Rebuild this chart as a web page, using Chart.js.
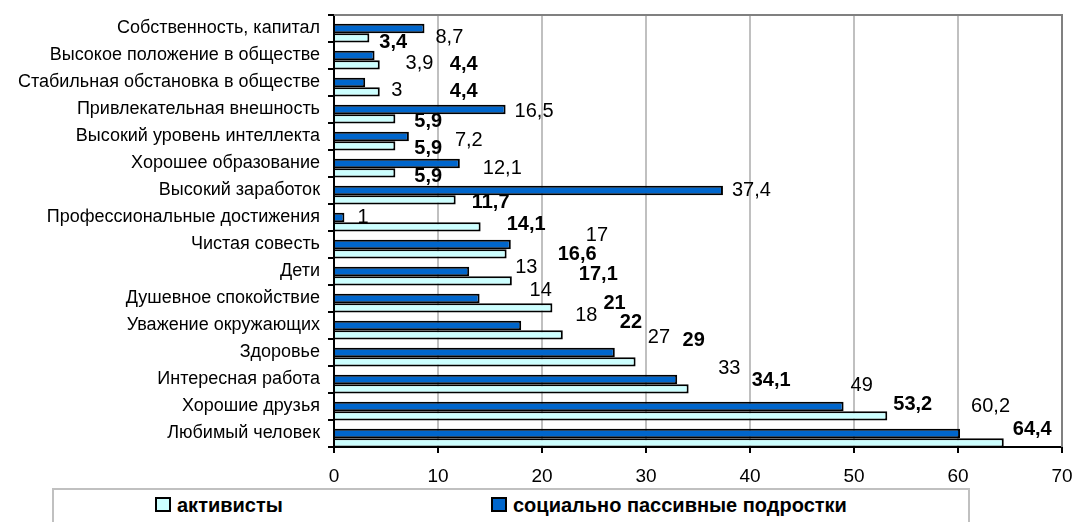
<!DOCTYPE html>
<html>
<head>
<meta charset="utf-8">
<script src="https://cdn.jsdelivr.net/npm/chart.js@4"></script>
<style>
html,body{margin:0;padding:0;background:#fff;}
#wrap{position:relative;width:1075px;height:522px;overflow:hidden;font-family:"Liberation Sans",Arial,sans-serif;}
#legend{position:absolute;left:52px;top:488px;width:914px;height:60px;border:2px solid #C0C0C0;background:#fff;}
.item{position:absolute;top:4px;font-weight:bold;font-size:20px;color:#000;line-height:22px;white-space:nowrap;}
.sw{display:inline-block;width:12px;height:11px;border:2px solid #000;vertical-align:baseline;margin-right:6px;}
</style>
</head>
<body>
<div id="wrap">
<canvas id="chart" width="1075" height="522"></canvas>
<div id="legend"></div>
</div>
<script>
// ================= DATA =================

const categories=[
"Собственность, капитал",
"Высокое положение в обществе",
"Стабильная обстановка в обществе",
"Привлекательная внешность",
"Высокий уровень интеллекта",
"Хорошее образование",
"Высокий заработок",
"Профессиональные достижения",
"Чистая совесть",
"Дети",
"Душевное спокойствие",
"Уважение окружающих",
"Здоровье",
"Интересная работа",
"Хорошие друзья",
"Любимый человек"
];

const passive=[8.7,3.9,3,16.5,7.2,12.1,37.4,1,17,13,14,18,27,33,49,60.2];
const activists=[3.4,4.4,4.4,5.9,5.9,5.9,11.7,14.1,16.6,17.1,21,22,29,34.1,53.2,64.4];

const xTicks=[0,10,20,30,40,50,60,70];

// label nudges (px from bar end / bar centre), like hand-moved excel labels
const passiveNudge=[[11,9],[31,8],[26,8],[9,2],[46,4],[23,5],[9,0],[13,0],[75,-9],[46,-4],[50,-8],[54,-10],[33,-15],[41,-11],[7,-21],[11,-27]];
const activNudge=[[10,5],[70,0],[70,0],[19,3],[19,3],[19,4],[16,3],[26,-2],[51,1],[67,-6],[51,-4],[57,-12],[47,-21],[63,-8],[6,-11],[9,-13]];

const DARK="#0066CC";
const LIGHT="#CCFFFF";
const FONT='"Liberation Sans", Arial, sans-serif';

// ================= PLUGINS =================

const frame={
id:"frame",
beforeDatasetsDraw(chart){
const a=chart.chartArea, c=chart.ctx;
c.save();
c.strokeStyle="#808080";
c.lineWidth=2;
c.beginPath();
c.moveTo(a.left,a.top);
c.lineTo(a.right,a.top);
c.lineTo(a.right,a.bottom);
c.stroke();
c.restore();
}
};

const valueLabels={
id:"valueLabels",
afterDatasetsDraw(chart){
const c=chart.ctx;
c.save();
c.fillStyle="#000";
c.textBaseline="middle";
c.textAlign="left";
chart.data.datasets.forEach((ds,di)=>{
if(!ds.nudge) return;
const meta=chart.getDatasetMeta(di);
c.font=(ds.bold?"bold ":"")+"20px "+FONT;
meta.data.forEach((bar,i)=>{
const txt=String(ds.data[i]).replace(".",",");
c.fillText(txt,bar.x+ds.nudge[i][0],bar.y+ds.nudge[i][1]);
});
});
c.restore();
}
};

// ================= CHART =================

new Chart(document.getElementById("chart"),{
type:"bar",
data:{
labels:categories,
datasets:[
// empty slot on top: excel puts the bar pair low in each band
{label:"",data:categories.map(()=>null)},
{label:"социально пассивные подростки",data:passive,backgroundColor:DARK,borderColor:"#000",borderWidth:2,nudge:passiveNudge},
{label:"активисты",data:activists,backgroundColor:LIGHT,borderColor:"#000",borderWidth:2,nudge:activNudge,bold:true}
]
},
options:{
indexAxis:"y",
responsive:false,
animation:false,
events:[],
layout:{padding:{top:15,right:13,left:0,bottom:0}},
datasets:{bar:{barPercentage:1,categoryPercentage:1.04}},
plugins:{legend:{display:false},tooltip:{enabled:false}},
scales:{
x:{
min:0,max:70,
afterBuildTicks(s){s.ticks=xTicks.map(v=>({value:v}));},
afterFit(s){s.height=75;s.paddingLeft=0;s.paddingRight=0;},
grid:{color:"#C0C0C0",lineWidth:2,tickColor:"#000",tickLength:6,tickWidth:2},
border:{color:"#000",width:2},
ticks:{color:"#000",font:{family:FONT,size:19},padding:12}
},
y:{
afterFit(s){s.width=334;s.paddingTop=0;s.paddingBottom=0;},
grid:{offset:true,drawOnChartArea:false,color:"#000",tickLength:6,lineWidth:2},
border:{color:"#000",width:2},
ticks:{color:"#000",font:{family:FONT,size:18},padding:8,autoSkip:false}
}
}
},
plugins:[frame,valueLabels]
});

// ================= LEGEND =================

document.getElementById("legend").innerHTML=`
<div class="item" style="left:101px"><span class="sw" style="background:${LIGHT}"></span>активисты</div>
<div class="item" style="left:437px"><span class="sw" style="background:${DARK}"></span>социально пассивные подростки</div>
`;
</script>
</body>
</html>
